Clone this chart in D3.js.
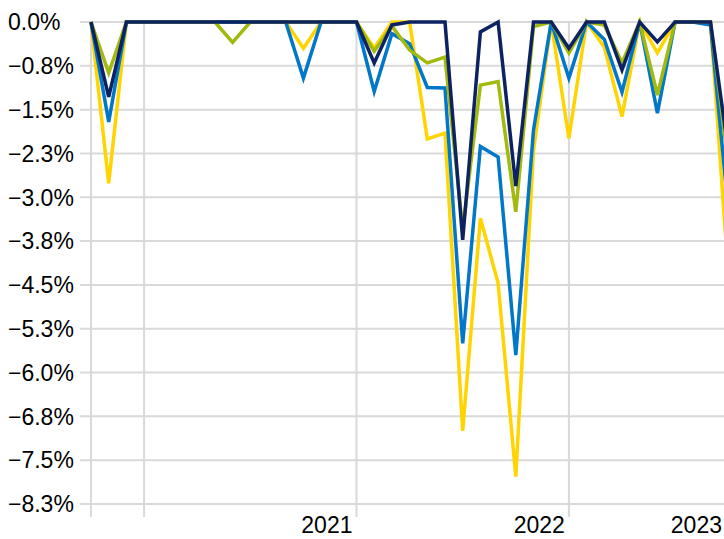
<!DOCTYPE html>
<html>
<head>
<meta charset="utf-8">
<script src="https://cdn.jsdelivr.net/npm/d3@7"></script>
<style>
  body { margin: 0; background: #fff; }
  svg { display: block; }
  text { font-family: "Liberation Sans", Arial, sans-serif; fill: #000; }
</style>
</head>
<body>
<div id="chart"></div>
<script>
// monthly observations, Oct 2019 .. Oct 2022
var months = d3.range(37).map(function(i){ return new Date(2019, 9 + i, 1); });

var yellowVals = [0, -2.76, 0, 0, 0, 0, 0, 0, 0, 0, 0, 0, -0.45, 0, 0, 0, -0.45, 0, 0, -2.0, -1.9,
                  -7.0, -3.36, -4.47, -7.78, -2.2, 0, -1.99, 0, -0.43, -1.62, 0, -0.53, 0, 0, 0, -4.3];
var blueVals   = [0, -1.71, 0, 0, 0, 0, 0, 0, 0, 0, 0, 0, -0.96, 0, 0, 0, -1.19, -0.2, -0.37, -1.12, -1.13,
                  -5.5, -2.13, -2.31, -5.7, -1.85, 0, -0.96, 0, -0.3, -1.2, 0, -1.56, 0, 0, -0.05, -3.2];
var greenVals  = [0, -0.87, 0, 0, 0, 0, 0, 0, -0.35, 0, 0, 0, 0, 0, 0, 0, -0.5, -0.07, -0.48, -0.7, -0.6,
                  -3.55, -1.08, -1.02, -3.25, -0.08, 0, -0.53, 0, -0.05, -0.7, 0, -1.25, 0, 0, 0, -2.42];
var navyVals   = [0, -1.28, 0, 0, 0, 0, 0, 0, 0, 0, 0, 0, 0, 0, 0, 0, -0.7, -0.05, 0, 0, 0,
                  -3.73, -0.17, 0, -2.81, 0, 0, -0.45, 0, 0, -0.82, 0, -0.34, 0, 0, 0, -2.2];

var yTicks = d3.range(0, 12).map(function(k){ return -0.75 * k; });
var yearTicks = [2020, 2021, 2022, 2023];
var yearLabels = ["", "2021", "2022", "2023"];

var seriesList = [
  {name: "yellow", values: yellowVals, color: "#ffd400"},
  {name: "blue",   values: blueVals,   color: "#0077c8"},
  {name: "green",  values: greenVals,  color: "#a2b90d"},
  {name: "navy",   values: navyVals,   color: "#0c2262"}
];

var width = 724, height = 539;

var svg = d3.select("#chart").append("svg")
    .attr("width", width)
    .attr("height", height);

var x = d3.scaleLinear()
    .domain([0, 36])
    .range([91, 728.2]);

var y = d3.scaleLinear()
    .domain([0, -8.25])
    .range([22, 504]);

// month index of january of a year
function yearIndex(yr){ return (yr - 2019) * 12 - 9; }

// horizontal grid
svg.append("g").selectAll("line")
    .data(yTicks)
    .enter().append("line")
    .attr("x1", 80).attr("x2", width)
    .attr("y1", function(d){ return y(d); })
    .attr("y2", function(d){ return y(d); })
    .attr("stroke", "#d9d9d9")
    .attr("stroke-width", 2);

// vertical grid (axis start + year starts)
var vlines = [0].concat(yearTicks.map(yearIndex));
svg.append("g").selectAll("line")
    .data(vlines)
    .enter().append("line")
    .attr("x1", function(d){ return x(d); })
    .attr("x2", function(d){ return x(d); })
    .attr("y1", 22).attr("y2", 517)
    .attr("stroke", "#d9d9d9")
    .attr("stroke-width", 2);

// y labels
svg.append("g").selectAll("text")
    .data(yTicks)
    .enter().append("text")
    .attr("x", 8)
    .attr("y", function(d){ return y(d); })
    .attr("dy", "0.36em")
    .style("font-size", "23px")
    .text(function(d){ return d3.format(".1f")(d) + "%"; });

// x labels, right aligned before the year tick
svg.append("g").selectAll("text")
    .data(yearTicks)
    .enter().append("text")
    .attr("x", function(d){ return Math.min(x(yearIndex(d)) - 4, width - 2); })
    .attr("y", 533)
    .attr("text-anchor", "end")
    .style("font-size", "23px")
    .text(function(d, i){ return yearLabels[i]; });

var line = d3.line()
    .x(function(d, i){ return x(i); })
    .y(function(d){ return y(d); });

svg.append("g").selectAll("path")
    .data(seriesList)
    .enter().append("path")
    .attr("d", function(s){ return line(s.values); })
    .attr("fill", "none")
    .attr("stroke", function(s){ return s.color; })
    .attr("stroke-width", 3.5)
    .attr("stroke-linejoin", "miter");
</script>
</body>
</html>
